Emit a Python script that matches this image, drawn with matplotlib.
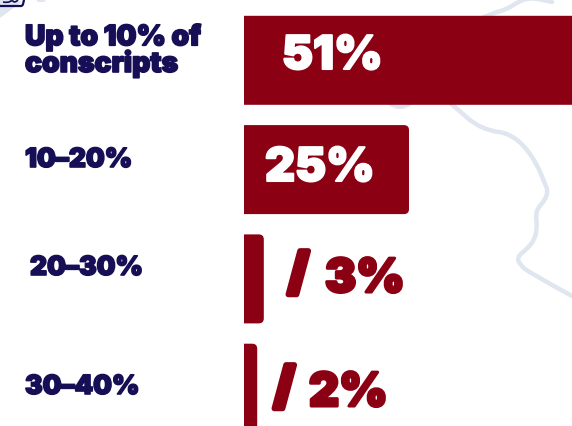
import numpy as np
import matplotlib
matplotlib.use("Agg")
import matplotlib.pyplot as plt
from matplotlib.path import Path
from matplotlib.patches import PathPatch, Polygon
import matplotlib.patheffects as pe

labels = ["Up to 10% of\nconscripts", "10–20%", "20–30%", "30–40%"]
values = [51, 25, 3, 2]
value_texts = ["51%", "25%", "3%", "2%"]

RED = "#8c0013"
NAVY = "#160f56"
MAP = "#dfe6ef"
PX_PER_PCT = 6.6
ROW = 109.3
FIRST = 61.3

# map outline, in pixels from the top left
map_x = [552, 540, 526, 515, 505, 493, 480]
map_y = [3, 0, -1, 5, 11, 14, 20]
map2_x = [388, 394, 400, 406, 412]
map2_y = [103, 107, 108, 107, 103]
map3_x = [449, 462, 473, 490, 507, 523, 537, 545, 548, 545, 537, 536, 537, 535, 527, 517, 520, 530, 572]
map3_y = [103, 114, 124, 132, 134, 145, 165, 185, 192, 201, 210, 218, 228, 240, 250, 258, 266, 274, 297]

fig = plt.figure(figsize=(5.72, 4.27), dpi=100)
ax = fig.add_axes([0, 0, 1, 1])
ax.set_xlim(-244 / PX_PER_PCT, (572 - 244) / PX_PER_PCT)
ax.set_ylim((427 - FIRST) / ROW, -FIRST / ROW)
ax.axis("off")

def px(x, y):
    return (np.array(x) - 244) / PX_PER_PCT, (np.array(y) - FIRST) / ROW

def smooth_path(xs, ys):
    # quadratic segments through the midpoints, with the given points as controls
    X, Y = px(xs, ys)
    pts = np.column_stack([X, Y])
    verts, codes = [pts[0]], [Path.MOVETO]
    for k in range(1, len(pts) - 1):
        end = pts[k + 1] if k == len(pts) - 2 else (pts[k] + pts[k + 1]) / 2
        verts += [pts[k], end]
        codes += [Path.CURVE3, Path.CURVE3]
    return Path(verts, codes)

for xs, ys in [(map_x, map_y), (map2_x, map2_y), (map3_x, map3_y)]:
    ax.add_patch(PathPatch(smooth_path(xs, ys), fc="none", ec=MAP, lw=3.2, capstyle="round", zorder=1))

# corner of the map and of the badge above the labels
wedge = np.column_stack(px([0, 12, 22, 12, 0], [-1, -1, 3, 10, 19]))
ax.add_patch(Polygon(wedge, fc=MAP, ec="none", zorder=1))
blob = np.column_stack(px([35, 48, 44, 38], [-1, -1, 3, 3]))
ax.add_patch(Polygon(blob, fc=MAP, ec="none", zorder=1))
ax.add_patch(PathPatch(smooth_path([-2, 18, 24, 24], [7, 7, 7, -2]), fc="none", ec=NAVY, lw=1.6, zorder=1.5))
ax.add_patch(PathPatch(smooth_path([3, 8, 12, 15, 18], [3, 4, 1, 4, 1]), fc="none", ec=NAVY, lw=1.2, zorder=1.5))

def bar_path(i, v, h=89 / ROW, r=5):
    rx, ry = r / PX_PER_PCT, r / ROW
    t, b = i - h / 2, i + h / 2
    verts = [(0, t), (v - rx, t), (v, t), (v, t + ry), (v, b - ry), (v, b), (v - rx, b), (0, b), (0, t)]
    codes = [Path.MOVETO, Path.LINETO, Path.CURVE3, Path.CURVE3, Path.LINETO,
             Path.CURVE3, Path.CURVE3, Path.LINETO, Path.CLOSEPOLY]
    return Path(verts, codes)

for i, v in enumerate(values):
    ax.add_patch(PathPatch(bar_path(i, v), fc=RED, ec="none", zorder=2))

heavy = dict(family="Inter", fontweight="black", va="baseline", ha="left", zorder=3)

# category labels, placed by their baselines
label_x = [25, 25, 30, 25]
label_base = [73, 168, 276, 395]
label_size = [20.3, 19, 19, 19]
for i, lab in enumerate(labels):
    x, y = px(label_x[i], label_base[i])
    ax.text(x, y, lab, color=NAVY, fontsize=label_size[i], linespacing=0.9,
            path_effects=[pe.withStroke(linewidth=1.2, foreground=NAVY)], **heavy)

# value labels; the two small bars carry a slash in front of the number
val_x = [282, 265, 325, 309]
val_base = [70, 182, 293, 407]
val_col = ["white", "white", RED, RED]
val_stroke = [1.5, 1.5, 2.2, 2.2]
for i, t in enumerate(value_texts):
    x, y = px(val_x[i], val_base[i])
    ax.text(x, y, t, color=val_col[i], fontsize=33.5,
            path_effects=[pe.withStroke(linewidth=val_stroke[i], foreground=val_col[i])], **heavy)

slash_x = [288, 274]
slash_base = [290, 404]
for i, (sx, sb) in enumerate(zip(slash_x, slash_base)):
    x, y = px(sx, sb)
    ax.text(x, y, "/", color=RED, fontsize=36,
            path_effects=[pe.withStroke(linewidth=4, foreground=RED)], **heavy)

fig.savefig("out.png", dpi=100)
